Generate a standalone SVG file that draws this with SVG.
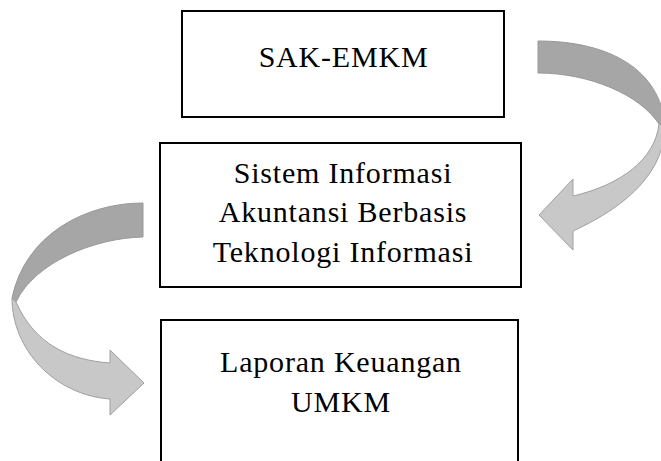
<svg xmlns="http://www.w3.org/2000/svg" width="661" height="461" viewBox="0 0 661 461">
<style>
.box{fill:#fff;stroke:#000;stroke-width:2}
.t{font-family:"Liberation Serif","Times New Roman",serif;font-size:30px;fill:#000;text-anchor:middle;letter-spacing:0.8px}
.back{fill:#a6a6a6;stroke:#999;stroke-width:1}
.front{fill:#c8c8c8;stroke:#a0a0a0;stroke-width:1}
</style>
<rect width="661" height="461" fill="#fff"/>
<g id="connectors">
  <g id="arrow-right">
    <path class="back" d="M538,41 C610,41 660,70 665,125 L659,124 C640,95 590,73 538,73 Z"/>
    <path class="front" d="M659,124 C655,160 620,185 573,196 L573,179 L539,215 L573,250 L573,231 C630,205 665,170 665,125 Z"/>
  </g>
  <g id="arrow-left">
    <path class="back" d="M143,203 C85,203 25,235 12,298 L16,302 C35,262 95,238 143,237 Z"/>
    <path class="front" d="M16,302 C35,345 70,360 110,363 L110,350 L144,383 L110,415 L110,399 C55,395 12,350 12,298 Z"/>
  </g>
</g>
<g id="node-sak">
  <rect class="box" x="182" y="11" width="322" height="106"/>
  <text class="t" x="343.5" y="67">SAK-EMKM</text>
</g>
<g id="node-sia">
  <rect class="box" x="160" y="143" width="361" height="144"/>
  <text class="t" x="343" y="183">Sistem Informasi</text>
  <text class="t" x="343" y="222">Akuntansi Berbasis</text>
  <text class="t" x="343" y="262">Teknologi Informasi</text>
</g>
<g id="node-laporan">
  <rect class="box" x="161" y="320" width="357" height="170"/>
  <text class="t" x="341" y="372">Laporan Keuangan</text>
  <text class="t" x="341" y="412">UMKM</text>
</g>
</svg>
